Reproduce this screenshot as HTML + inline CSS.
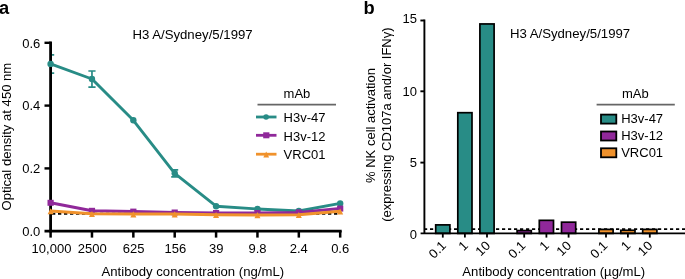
<!DOCTYPE html><html><head><meta charset="utf-8"><style>html,body{margin:0;padding:0;background:#fff;}svg{display:block;will-change:transform;}</style></head><body><svg width="685" height="279" viewBox="0 0 685 279" font-family='"Liberation Sans", sans-serif' font-size="13">
<defs><clipPath id="cl"><rect x="51.9" y="0" width="300" height="279"/></clipPath></defs>
<rect width="685" height="279" fill="#fff"/>
<text x="-0.9" y="13.5" font-weight="bold" font-size="18.3">a</text>
<text x="363.6" y="13.7" font-weight="bold" font-size="18.3">b</text>
<text x="132.4" y="38.5" font-size="13.2">H3 A/Sydney/5/1997</text>
<text transform="translate(11.0,136.6) rotate(-90)" text-anchor="middle" font-size="13.1">Optical density at 450 nm</text>
<text x="192.8" y="275.6" text-anchor="middle" font-size="13.15">Antibody concentration (ng/mL)</text>
<path d="M50.6,41.4 V232.7 M44.5,231.2 H341.7" stroke="#000" stroke-width="2.8" fill="none"/>
<line x1="44.5" y1="42.8" x2="50.6" y2="42.8" stroke="#000" stroke-width="2.4"/>
<line x1="44.5" y1="105.6" x2="50.6" y2="105.6" stroke="#000" stroke-width="2.4"/>
<line x1="44.5" y1="168.4" x2="50.6" y2="168.4" stroke="#000" stroke-width="2.4"/>
<line x1="50.60" y1="231" x2="50.60" y2="237.6" stroke="#000" stroke-width="2.5"/>
<line x1="91.97" y1="231" x2="91.97" y2="237.6" stroke="#000" stroke-width="2.5"/>
<line x1="133.34" y1="231" x2="133.34" y2="237.6" stroke="#000" stroke-width="2.5"/>
<line x1="174.71" y1="231" x2="174.71" y2="237.6" stroke="#000" stroke-width="2.5"/>
<line x1="216.08" y1="231" x2="216.08" y2="237.6" stroke="#000" stroke-width="2.5"/>
<line x1="257.45" y1="231" x2="257.45" y2="237.6" stroke="#000" stroke-width="2.5"/>
<line x1="298.82" y1="231" x2="298.82" y2="237.6" stroke="#000" stroke-width="2.5"/>
<line x1="340.19" y1="231" x2="340.19" y2="237.6" stroke="#000" stroke-width="2.5"/>
<text x="40.3" y="48.0" text-anchor="end">0.6</text>
<text x="40.3" y="110.2" text-anchor="end">0.4</text>
<text x="40.3" y="173.0" text-anchor="end">0.2</text>
<text x="40.3" y="235.7" text-anchor="end">0.0</text>
<text x="51.50" y="253.1" text-anchor="middle">10,000</text>
<text x="92.17" y="253.1" text-anchor="middle">2500</text>
<text x="133.64" y="253.1" text-anchor="middle">625</text>
<text x="175.31" y="253.1" text-anchor="middle">156</text>
<text x="216.18" y="253.1" text-anchor="middle">39</text>
<text x="257.45" y="253.1" text-anchor="middle">9.8</text>
<text x="298.82" y="253.1" text-anchor="middle">2.4</text>
<text x="340.19" y="253.1" text-anchor="middle">0.6</text>
<line x1="52" y1="213.7" x2="340" y2="213.7" stroke="#000" stroke-width="2.0" stroke-dasharray="3.3 2.7"/>
<polyline points="50.60,63.90 91.97,79.00 133.34,120.30 174.71,173.30 216.08,206.20 257.45,209.00 298.82,211.00 340.19,203.40" fill="none" stroke="#288c86" stroke-width="2.9" stroke-linejoin="round"/>
<g clip-path="url(#cl)">
<path d="M50.60,54.8 V73.1 M47.00,54.8 H54.20 M47.00,73.1 H54.20" stroke="#288c86" stroke-width="1.7" fill="none"/>
</g>
<path d="M91.97,71.0 V87.1 M88.37,71.0 H95.57 M88.37,87.1 H95.57" stroke="#288c86" stroke-width="1.7" fill="none"/>
<path d="M174.71,169.8 V176.8 M171.21,169.8 H178.21 M171.21,176.8 H178.21" stroke="#288c86" stroke-width="1.7" fill="none"/>
<circle cx="50.60" cy="63.90" r="3.2" fill="#288c86"/>
<circle cx="91.97" cy="79.00" r="3.2" fill="#288c86"/>
<circle cx="133.34" cy="120.30" r="3.2" fill="#288c86"/>
<circle cx="174.71" cy="173.30" r="3.2" fill="#288c86"/>
<circle cx="216.08" cy="206.20" r="3.2" fill="#288c86"/>
<circle cx="257.45" cy="209.00" r="3.2" fill="#288c86"/>
<circle cx="298.82" cy="211.00" r="3.2" fill="#288c86"/>
<circle cx="340.19" cy="203.40" r="3.2" fill="#288c86"/>
<polyline points="50.60,202.80 91.97,210.80 133.34,211.60 174.71,212.50 216.08,213.00 257.45,213.00 298.82,212.40 340.19,208.60" fill="none" stroke="#90289a" stroke-width="3.0" stroke-linejoin="round"/>
<rect x="47.50" y="199.80" width="6.2" height="6" fill="#90289a"/>
<rect x="88.87" y="207.80" width="6.2" height="6" fill="#90289a"/>
<rect x="130.24" y="208.60" width="6.2" height="6" fill="#90289a"/>
<rect x="171.61" y="209.50" width="6.2" height="6" fill="#90289a"/>
<rect x="212.98" y="210.00" width="6.2" height="6" fill="#90289a"/>
<rect x="254.35" y="210.00" width="6.2" height="6" fill="#90289a"/>
<rect x="295.72" y="209.40" width="6.2" height="6" fill="#90289a"/>
<rect x="337.09" y="205.60" width="6.2" height="6" fill="#90289a"/>
<polyline points="50.60,211.00 91.97,213.80 133.34,214.10 174.71,214.10 216.08,214.70 257.45,214.90 298.82,214.70 340.19,211.30" fill="none" stroke="#f0922c" stroke-width="3.0" stroke-linejoin="round"/>
<path d="M50.60,208.20 L53.60,214.30 L47.60,214.30 Z" fill="#f0922c"/>
<path d="M91.97,211.00 L94.97,217.10 L88.97,217.10 Z" fill="#f0922c"/>
<path d="M133.34,211.30 L136.34,217.40 L130.34,217.40 Z" fill="#f0922c"/>
<path d="M174.71,211.30 L177.71,217.40 L171.71,217.40 Z" fill="#f0922c"/>
<path d="M216.08,211.90 L219.08,218.00 L213.08,218.00 Z" fill="#f0922c"/>
<path d="M257.45,212.10 L260.45,218.20 L254.45,218.20 Z" fill="#f0922c"/>
<path d="M298.82,211.90 L301.82,218.00 L295.82,218.00 Z" fill="#f0922c"/>
<path d="M340.19,208.50 L343.19,214.60 L337.19,214.60 Z" fill="#f0922c"/>
<text x="283.6" y="97.6">mAb</text>
<line x1="257.5" y1="104.7" x2="336" y2="104.7" stroke="#666" stroke-width="1.7"/>
<line x1="256" y1="117.0" x2="276.5" y2="117.0" stroke="#288c86" stroke-width="2.8"/>
<circle cx="266.1" cy="117.0" r="2.8" fill="#288c86"/>
<text x="283.6" y="122.20">H3v-47</text>
<line x1="256" y1="135.3" x2="276.5" y2="135.3" stroke="#90289a" stroke-width="2.8"/>
<rect x="263.2" y="132.3" width="6.2" height="6" fill="#90289a"/>
<text x="283.6" y="140.50">H3v-12</text>
<line x1="256" y1="154.2" x2="276.5" y2="154.2" stroke="#f0922c" stroke-width="2.8"/>
<path d="M266.2,151.6 L269.1,157.5 L263.3,157.5 Z" fill="#f0922c"/>
<text x="283.6" y="159.40">VRC01</text>
<text x="509.9" y="37.9" font-size="13.2">H3 A/Sydney/5/1997</text>
<text transform="translate(374.8,125.5) rotate(-90)" text-anchor="middle">% NK cell activation</text>
<text transform="translate(390.6,124.6) rotate(-90)" text-anchor="middle">(expressing CD107a and/or IFN&#947;)</text>
<text x="553.8" y="275.6" text-anchor="middle" font-size="13.15">Antibody concentration (&#181;g/mL)</text>
<line x1="424" y1="229.2" x2="685" y2="229.2" stroke="#000" stroke-width="1.7" stroke-dasharray="3.2 2.8"/>
<rect x="435.70" y="224.88" width="14.2" height="8.52" fill="#288c86" stroke="#000" stroke-width="1.7"/>
<rect x="457.80" y="112.70" width="14.2" height="120.70" fill="#288c86" stroke="#000" stroke-width="1.7"/>
<rect x="479.90" y="23.95" width="14.2" height="209.45" fill="#288c86" stroke="#000" stroke-width="1.7"/>
<rect x="517.10" y="230.56" width="14.2" height="2.84" fill="#90289a" stroke="#000" stroke-width="1.7"/>
<rect x="539.30" y="220.34" width="14.2" height="13.06" fill="#90289a" stroke="#000" stroke-width="1.7"/>
<rect x="561.50" y="222.18" width="14.2" height="11.22" fill="#90289a" stroke="#000" stroke-width="1.7"/>
<rect x="598.90" y="229.42" width="14.2" height="3.98" fill="#f0922c" stroke="#000" stroke-width="1.7"/>
<rect x="620.80" y="230.28" width="14.2" height="3.12" fill="#f0922c" stroke="#000" stroke-width="1.7"/>
<rect x="642.70" y="229.42" width="14.2" height="3.98" fill="#f0922c" stroke="#000" stroke-width="1.7"/>
<path d="M424.4,19.6 V234.3 M420.6,233.4 H685" stroke="#000" stroke-width="1.9" fill="none"/>
<line x1="420.4" y1="162.60" x2="424.4" y2="162.60" stroke="#000" stroke-width="1.9"/>
<line x1="420.4" y1="91.30" x2="424.4" y2="91.30" stroke="#000" stroke-width="1.9"/>
<line x1="420.4" y1="20.50" x2="424.4" y2="20.50" stroke="#000" stroke-width="1.9"/>
<text x="417" y="238.5" text-anchor="end">0</text>
<text x="417" y="167.1" text-anchor="end">5</text>
<text x="417" y="95.5" text-anchor="end">10</text>
<text x="417" y="23.4" text-anchor="end">15</text>
<line x1="442.8" y1="233.4" x2="442.8" y2="237.6" stroke="#000" stroke-width="1.8"/>
<text transform="translate(446.80,246.4) rotate(-45)" text-anchor="end">0.1</text>
<line x1="464.9" y1="233.4" x2="464.9" y2="237.6" stroke="#000" stroke-width="1.8"/>
<text transform="translate(468.90,246.4) rotate(-45)" text-anchor="end">1</text>
<line x1="487.0" y1="233.4" x2="487.0" y2="237.6" stroke="#000" stroke-width="1.8"/>
<text transform="translate(491.00,246.4) rotate(-45)" text-anchor="end">10</text>
<line x1="524.2" y1="233.4" x2="524.2" y2="237.6" stroke="#000" stroke-width="1.8"/>
<text transform="translate(526.40,246.4) rotate(-45)" text-anchor="end">0.1</text>
<line x1="546.4" y1="233.4" x2="546.4" y2="237.6" stroke="#000" stroke-width="1.8"/>
<text transform="translate(549.90,246.4) rotate(-45)" text-anchor="end">1</text>
<line x1="568.6" y1="233.4" x2="568.6" y2="237.6" stroke="#000" stroke-width="1.8"/>
<text transform="translate(572.00,246.4) rotate(-45)" text-anchor="end">10</text>
<line x1="606.0" y1="233.4" x2="606.0" y2="237.6" stroke="#000" stroke-width="1.8"/>
<text transform="translate(608.30,246.4) rotate(-45)" text-anchor="end">0.1</text>
<line x1="627.9" y1="233.4" x2="627.9" y2="237.6" stroke="#000" stroke-width="1.8"/>
<text transform="translate(631.40,246.4) rotate(-45)" text-anchor="end">1</text>
<line x1="649.8" y1="233.4" x2="649.8" y2="237.6" stroke="#000" stroke-width="1.8"/>
<text transform="translate(653.30,246.4) rotate(-45)" text-anchor="end">10</text>
<text x="622" y="97.6">mAb</text>
<line x1="596.6" y1="104.6" x2="674.8" y2="104.6" stroke="#666" stroke-width="1.7"/>
<rect x="601.0" y="114.60" width="15.3" height="9" fill="#288c86" stroke="#000" stroke-width="1.8"/>
<text x="621.2" y="123.00">H3v-47</text>
<rect x="601.0" y="131.50" width="15.3" height="9" fill="#90289a" stroke="#000" stroke-width="1.8"/>
<text x="621.2" y="139.90">H3v-12</text>
<rect x="601.0" y="148.30" width="15.3" height="9" fill="#f0922c" stroke="#000" stroke-width="1.8"/>
<text x="621.2" y="156.70">VRC01</text>
</svg></body></html>
